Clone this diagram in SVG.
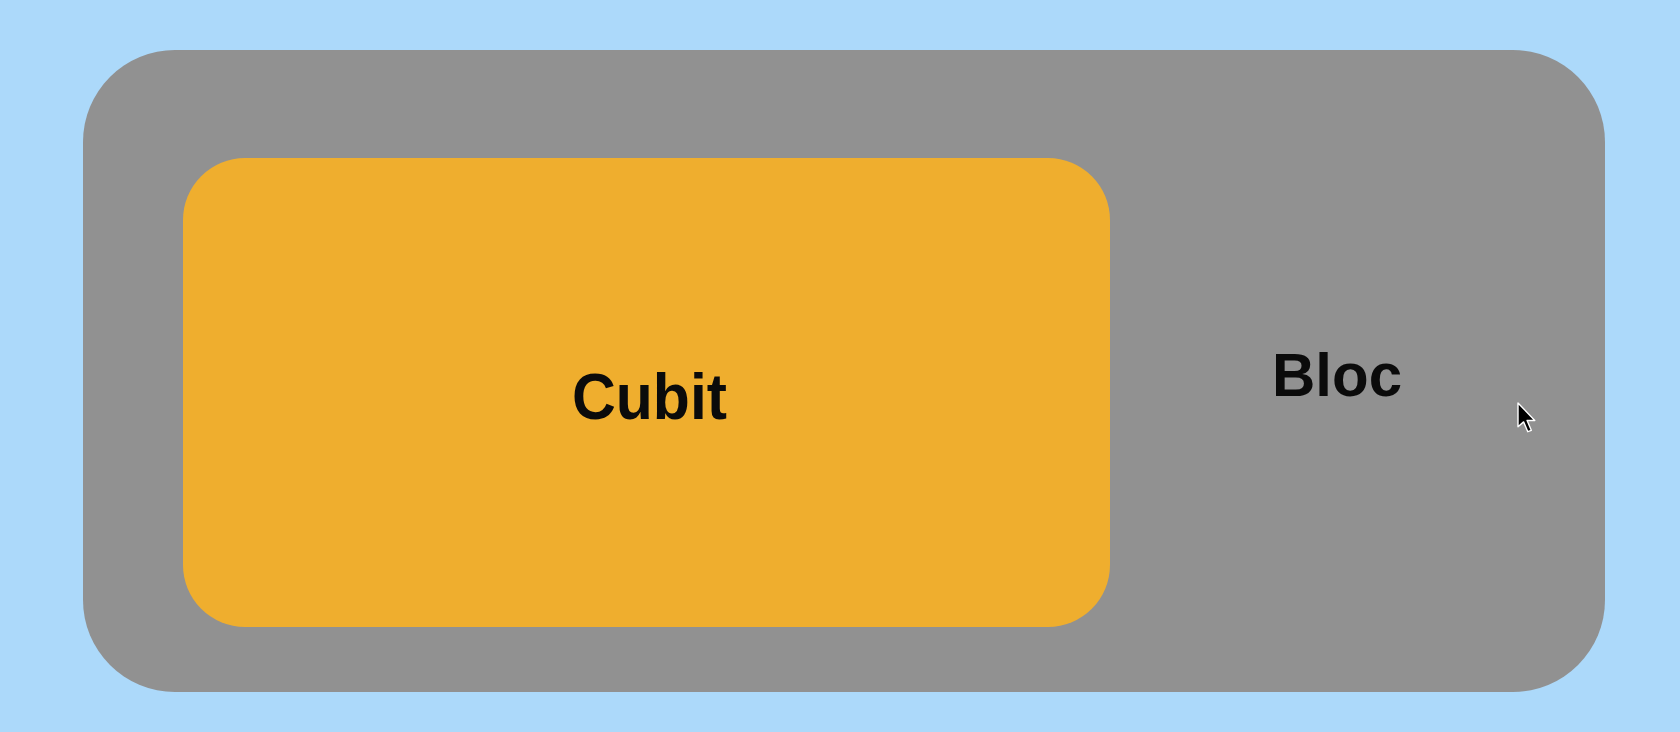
<svg xmlns="http://www.w3.org/2000/svg" width="1680" height="732" viewBox="0 0 1680 732">
<style>
.lbl{font-family:"Liberation Sans",Arial,sans-serif;font-weight:bold;fill:#0b0b0b;text-anchor:middle}
</style>
<rect width="1680" height="732" fill="#acd9fa"/>
<g id="bloc">
<rect x="83" y="50" width="1522" height="642" rx="92" ry="92" fill="#919191"/>
<text class="lbl" x="1337" y="396" font-size="61" textLength="130" lengthAdjust="spacingAndGlyphs">Bloc</text>
</g>
<g id="cubit">
<rect x="183" y="158" width="927" height="469" rx="62" ry="62" fill="#efae2e"/>
<text class="lbl" x="649.5" y="419" font-size="65" textLength="155" lengthAdjust="spacingAndGlyphs">Cubit</text>
</g>
<g id="connectors"></g>
<g id="cursor" transform="translate(1518,403) scale(1.4)">
<polygon points="0,0 0,17 4,13.5 7,20.5 9.5,19.5 6.5,12.5 12,12.5" fill="#000" stroke="#fff" stroke-width="1" stroke-linejoin="round"/>
</g>
</svg>
